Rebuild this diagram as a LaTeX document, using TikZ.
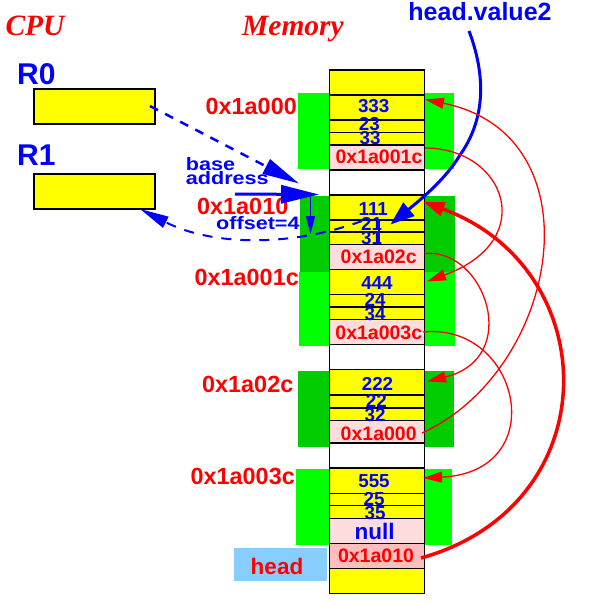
\documentclass[tikz,border=0pt]{standalone}
\usepackage{fontspec}
\setmainfont{Liberation Sans}
\newfontfamily\tmsfont{Liberation Serif}
\newfontfamily\widesans[FakeStretch=1.2]{Liberation Sans}
\usetikzlibrary{arrows.meta}
\definecolor{lgreen}{RGB}{0,255,0}
\definecolor{dgreen}{RGB}{0,204,0}
\definecolor{cyel}{RGB}{255,255,0}
\definecolor{cpink}{RGB}{255,221,221}
\definecolor{cpinkb}{RGB}{255,190,190}
\definecolor{cblue}{RGB}{0,0,255}
\definecolor{cred}{RGB}{255,0,0}
\definecolor{csky}{RGB}{135,206,255}
\tikzset{
  addr/.style={text=cred, font=\fontsize{23.4}{23.4}\selectfont\bfseries, anchor=base east, inner sep=0pt},
  num/.style={text=cblue, font=\fontsize{18.8}{18.8}\selectfont\bfseries, anchor=base, inner sep=0pt},
  ptrtxt/.style={text=cred, font=\fontsize{19.5}{19.5}\selectfont\bfseries, anchor=base, inner sep=0pt},
  regname/.style={text=cblue, font=\fontsize{30}{30}\selectfont\bfseries, anchor=base west, inner sep=0pt},
  regbox/.style={draw=black, fill=cyel, line width=1.2pt, minimum width=121pt, minimum height=35pt, inner sep=0pt},
  ttl/.style={text=cred, font=\fontsize{29.5}{29.5}\tmsfont\bfseries\itshape, anchor=base, inner sep=0pt},
  bluetxt/.style={text=cblue, font=\fontsize{18}{18}\widesans\bfseries, anchor=base west, inner sep=0pt},
  memcell/.style={draw=black, line width=1.2pt},
  rarrow/.style={draw=cred, line width=1.3pt, -{Triangle[length=19pt,width=11pt]}},
}
\begin{document}
\begin{tikzpicture}[x=1pt,y=-1pt]
\useasboundingbox (0,0) rectangle (592,605);

% green background blocks
\fill[lgreen] (298,93) rectangle (454,169);
\fill[dgreen] (300,196) rectangle (455,271.5);
\fill[lgreen] (299,271.5) rectangle (455,345.5);
\fill[dgreen] (298,371) rectangle (454,446.5);
\fill[lgreen] (296,469) rectangle (452,544.5);

% memory cells
\foreach \ya/\yb/\cc in {70/95/cyel, 95/120/cyel, 120/132.5/cyel, 132.5/145/cyel, 145/170/cpink,
  170/195/white, 195/220/cyel, 220/232/cyel, 232/244.5/cyel, 244.5/269.5/cpink,
  269.5/294.5/cyel, 294.5/307/cyel, 307/319.5/cyel, 319.5/344.5/cpink, 344.5/369.5/white,
  369.5/395/cyel, 395/408/cyel, 408/420.5/cyel, 420.5/443/cpink, 443/468/white,
  468/493.3/cyel, 493.3/505.7/cyel, 505.7/518.3/cyel, 518.3/543.3/cpink, 543.3/568.3/cpinkb,
  568.3/593.3/cyel}
  \draw[memcell, fill=\cc] (329.5,\ya) rectangle (424.5,\yb);

% titles
\node[ttl] (cpu) at (35,35) {CPU};
\node[ttl] (mem) at (293,35) {Memory};
\node[text=cblue, font=\fontsize{25}{25}\selectfont\bfseries, anchor=base, inner sep=0pt] (hv) at (480,20) {head.value2};

% registers
\node[regname] (r0name) at (17,84) {R0};
\node[regbox] (r0) at (94.5,106.5) {};
\node[regname] (r1name) at (17,165) {R1};
\node[regbox] (r1) at (94.5,191.5) {};

% address labels
\node[addr] (a000) at (297,114) {0x1a000};
\node[addr] (a010) at (288.5,214) {0x1a010};
\node[addr] (a01c) at (299,285) {0x1a001c};
\node[addr] (a02c) at (293.5,392) {0x1a02c};
\node[addr] (a03c) at (295,484) {0x1a003c};

% numbers
\node[num] (v333) at (373.7,112.7) {333};
\node[num] (v23) at (369.3,130) {23};
\node[num] (v33) at (370,144) {33};
\node[num] (v111) at (373.3,215) {111};
\node[num] (v21) at (371.5,230.7) {21};
\node[num] (v31) at (371.5,244) {31};
\node[num] (v444) at (377,289) {444};
\node[num] (v24) at (375,306) {24};
\node[num] (v34) at (375,320) {34};
\node[num] (v222) at (377.5,390) {222};
\node[num] (v22) at (376.3,407) {22};
\node[num] (v32) at (375,421.5) {32};
\node[num] (v555) at (374,487.7) {555};
\node[num] (v25) at (374,505) {25};
\node[num] (v35) at (375,519) {35};

% pointer texts
\node[ptrtxt] (t01c) at (379,163.3) {0x1a001c};
\node[ptrtxt] (t02c) at (378.7,263.3) {0x1a02c};
\node[ptrtxt] (t03c) at (378.8,339) {0x1a003c};
\node[ptrtxt] (t000) at (378.7,440) {0x1a000};
\node[text=cblue, font=\fontsize{22.5}{22.5}\selectfont\bfseries, anchor=base, inner sep=0pt] (tnull) at (374.7,539) {null};
\node[ptrtxt] (t010) at (376,562.3) {0x1a010};

% head
\node[fill=csky, minimum width=93pt, minimum height=33pt, inner sep=0pt] (headbox) at (280.5,564.5) {};
\node[text=cred, font=\fontsize{22.5}{22.5}\selectfont\bfseries, anchor=base, inner sep=0pt] (headtxt) at (277,574.3) {head};

% blue texts
\node[bluetxt] (tbase) at (185.7,170) {base};
\node[bluetxt] (taddress) at (185.7,184.3) {address};
\node[bluetxt] (toffset) at (216,229) {offset=4};

% coordinates for connectors
\coordinate (r0out) at (150,106);
\coordinate (basetip) at (299,183.5);
\coordinate (bstart) at (235,194);
\coordinate (btip) at (319,194.5);
\coordinate (offtop) at (310.5,197);
\coordinate (offtip) at (310.5,234);
\coordinate (retstart) at (362,221);
\coordinate (r1in) at (140,209);
\coordinate (hvstart) at (469,31);
\coordinate (hvmid) at (460,155);
\coordinate (hvtip) at (390.5,224.5);
\coordinate (bartop) at (379,220);
\coordinate (barbot) at (379,243);
\coordinate (p01c) at (425,148);
\coordinate (p02c) at (425,253.5);
\coordinate (p03c) at (423,332);
\coordinate (p000) at (422,433);
\coordinate (p010) at (421,558);
\coordinate (n333) at (425,99.5);
\coordinate (n111) at (423.5,202);
\coordinate (n444) at (427,281.5);
\coordinate (n222) at (427,381.5);
\coordinate (n555) at (423,478);

% blue connectors
\draw[cblue, line width=2.5pt, dash pattern=on 9pt off 8pt, -{Triangle[length=37pt,width=16pt]}] (r0out) -- (basetip);
\draw[cblue, line width=3pt, -{Triangle[length=38pt,width=18pt]}] (bstart) -- (btip);
\draw[cblue, line width=1.5pt, -{Triangle[length=18pt,width=9pt]}] (offtop) -- (offtip);
\draw[cblue, line width=2pt, dash pattern=on 10pt off 9pt, -{Triangle[length=29pt,width=12pt]}] (retstart) .. controls (288,248) and (210,245) .. (r1in);
\draw[cblue, line width=3pt, -{Triangle[length=24pt,width=17pt]}] (hvstart) .. controls (480,60) and (492,110) .. (hvmid) .. controls (445,180) and (420,200) .. (hvtip);
\draw[cblue, line width=1.5pt] (bartop) -- (barbot);

% red connectors
\draw[rarrow] (p01c) .. controls (505,148) and (540,240) .. (n444);
\draw[rarrow] (p02c) .. controls (485,248) and (523,358) .. (n222);
\draw[rarrow] (p03c) .. controls (520,322) and (553,472) .. (n555);
\draw[rarrow] (p000) .. controls (560,370) and (600,135) .. (n333);
\draw[draw=cred, line width=3.5pt, -{Triangle[length=21pt,width=14pt]}] (p010) .. controls (610,505) and (605,268) .. (n111);
\end{tikzpicture}
\end{document}
